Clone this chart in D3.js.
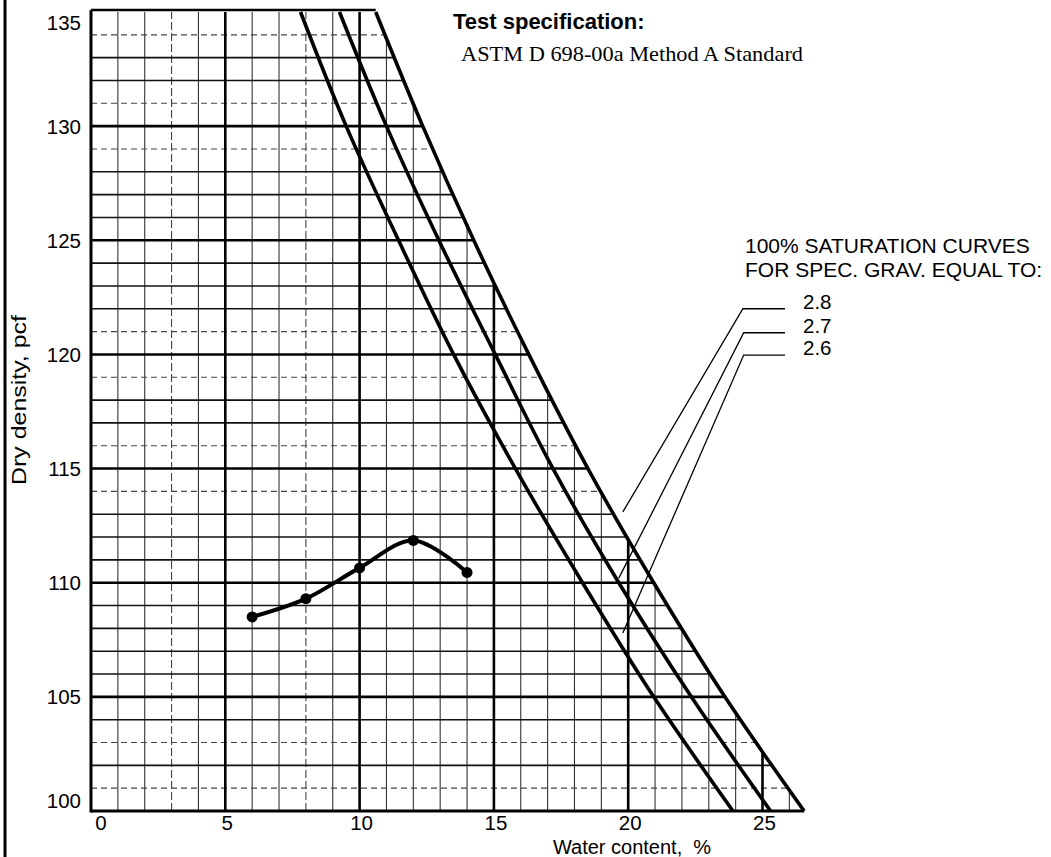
<!DOCTYPE html>
<html>
<head>
<meta charset="utf-8">
<script src="https://cdn.jsdelivr.net/npm/d3@7"></script>
<style>
  html, body { margin: 0; padding: 0; background: #fff; }
  svg { display: block; }
  text { font-family: "Liberation Sans", Arial, sans-serif; fill: #000; }
</style>
</head>
<body>
<svg id="chart" width="1051" height="857"></svg>
<script>
// ---------- DATA ----------
// Compaction test points (water content %, dry density pcf)
const waterContent = [6, 8, 10, 12, 14];
const dryDensity = [108.5, 109.3, 110.65, 111.85, 110.45];

// 100% saturation curves: water content at given densities
const satDensity = [135, 130, 125, 120, 115, 110, 105, 100];
const satW28 = [10.6, 12.35, 14.25, 16.3, 18.5, 20.95, 23.6, 26.55];
const satW27 = [9.25, 11.0, 12.95, 15.05, 17.2, 19.65, 22.35, 25.3];
const satW26 = [7.8, 9.5, 11.45, 13.5, 15.8, 18.3, 20.95, 23.9];
const specGravity = ["2.8", "2.7", "2.6"];

// tick values
const xTicks = [0, 5, 10, 15, 20, 25];
const yTicks = [100, 105, 110, 115, 120, 125, 130, 135];
const xMinor = d3.range(0, 28, 1);
const yMinor = d3.range(100, 136, 1);

// legend leader lines (in data units: [water content, density])
const leaderStart = [[24.27, 122.0], [24.3, 120.95], [24.3, 119.97]];
const leaderEnd = [[19.8, 113.1], [19.65, 110.2], [19.8, 107.8]];
const leaderRightW = 25.84;

// ---------- LAYOUT ----------
const svg = d3.select("#chart");
const x = d3.scaleLinear().domain([0, 27]).range([91, 91 + 27 * 26.86]);
const y = d3.scaleLinear().domain([100, 135]).range([811, 12]);

// page border on the left
svg.append("line").attr("x1", 5).attr("x2", 5).attr("y1", 0).attr("y2", 857)
  .attr("stroke", "#000").attr("stroke-width", 3);

const sat = [satW28, satW27, satW26].map(ws => ws.map((w, i) => ({ w, d: satDensity[i] })));
const curve = d3.curveCatmullRom.alpha(0.5);

// clip region: left of the 2.8 saturation curve
const clipArea = d3.area().curve(curve)
  .y(p => y(p.d)).x0(x(0) - 10).x1(p => x(p.w));
svg.append("clipPath").attr("id", "gridclip")
  .append("path").attr("d", clipArea(sat[0]));

const grid = svg.append("g").attr("clip-path", "url(#gridclip)");

// dashed (faint) minor lines in the scan
const dashedH = new Set([101, 103, 114, 116, 119, 121, 129, 131, 134]);
const dashedV = new Set([3, 8]);

// minor vertical
grid.selectAll("line.vmin").data(xMinor.filter(v => v % 5 !== 0)).join("line")
  .attr("x1", d => x(d)).attr("x2", d => x(d))
  .attr("y1", y(100)).attr("y2", y(135))
  .attr("stroke", d => dashedV.has(d) ? "#444" : "#333")
  .attr("stroke-width", d => dashedV.has(d) ? 1.1 : 1.1)
  .attr("stroke-dasharray", d => dashedV.has(d) ? "8,3" : null);

// minor horizontal
grid.selectAll("line.hmin").data(yMinor.filter(v => v % 5 !== 0)).join("line")
  .attr("x1", x(0)).attr("x2", x(27))
  .attr("y1", d => y(d)).attr("y2", d => y(d))
  .attr("stroke", d => dashedH.has(d) ? "#444" : "#111")
  .attr("stroke-width", d => dashedH.has(d) ? 1.1 : 1.6)
  .attr("stroke-dasharray", d => dashedH.has(d) ? "6,4" : null);

// major vertical
grid.selectAll("line.vmaj").data(xTicks.filter(v => v > 0)).join("line")
  .attr("x1", d => x(d)).attr("x2", d => x(d))
  .attr("y1", y(100)).attr("y2", y(135))
  .attr("stroke", "#000").attr("stroke-width", 2.6);

// major horizontal
grid.selectAll("line.hmaj").data(yTicks.filter(v => v > 100 && v < 135)).join("line")
  .attr("x1", x(0)).attr("x2", x(27))
  .attr("y1", d => y(d)).attr("y2", d => y(d))
  .attr("stroke", "#000").attr("stroke-width", 2.6);

// frame: left axis, bottom axis, top border
svg.append("line").attr("x1", x(0)).attr("x2", x(0)).attr("y1", y(135) - 2).attr("y2", y(100) + 1.5)
  .attr("stroke", "#000").attr("stroke-width", 3);
svg.append("line").attr("x1", x(0)).attr("x2", x(satW28[satW28.length - 1]))
  .attr("y1", y(100)).attr("y2", y(100))
  .attr("stroke", "#000").attr("stroke-width", 3);
svg.append("line").attr("x1", x(0)).attr("x2", x(satW28[0]))
  .attr("y1", y(135) - 2).attr("y2", y(135) - 2)
  .attr("stroke", "#000").attr("stroke-width", 2.4);

// saturation curves
const satLine = d3.line().curve(curve).x(p => x(p.w)).y(p => y(p.d));
svg.selectAll("path.sat").data(sat).join("path")
  .attr("d", satLine).attr("fill", "none")
  .attr("stroke", "#000").attr("stroke-width", 3.6);

// compaction curve
const pts = waterContent.map((w, i) => ({ w, d: dryDensity[i] }));
svg.append("path").datum(pts)
  .attr("d", d3.line().curve(d3.curveCatmullRom.alpha(0.5)).x(p => x(p.w)).y(p => y(p.d)))
  .attr("fill", "none").attr("stroke", "#000").attr("stroke-width", 4);
svg.selectAll("circle.pt").data(pts).join("circle")
  .attr("cx", p => x(p.w)).attr("cy", p => y(p.d)).attr("r", 5.5).attr("fill", "#000");

// tick labels
svg.selectAll("text.yl").data(yTicks).join("text")
  .attr("x", 81).attr("y", d => Math.min(y(100) - 10, Math.max(y(135) + 11, y(d))))
  .attr("dy", "0.36em").attr("text-anchor", "end")
  .attr("font-size", 20.5).text(d => d);
svg.selectAll("text.xl").data(xTicks).join("text")
  .attr("x", d => Math.max(x(0) + 10, x(d) + 2)).attr("y", 830)
  .attr("text-anchor", "middle").attr("font-size", 20.5).text(d => d);

// axis titles
svg.append("text").attr("x", 632).attr("y", 854).attr("text-anchor", "middle")
  .attr("font-size", 20).style("white-space", "pre").text("Water content,  %");
svg.append("text").attr("transform", "translate(26,400) rotate(-90)")
  .attr("text-anchor", "middle").attr("font-size", 19.5)
  .attr("textLength", 170).attr("lengthAdjust", "spacingAndGlyphs")
  .text("Dry density, pcf");

// test specification
svg.append("text").attr("x", 453).attr("y", 29).attr("font-size", 22).attr("font-weight", "bold")
  .text("Test specification:");
svg.append("text").attr("x", 461).attr("y", 61).attr("font-size", 21)
  .style("font-family", "'Liberation Serif', 'Times New Roman', serif")
  .attr("textLength", 342).attr("lengthAdjust", "spacingAndGlyphs")
  .text("ASTM D 698-00a Method A Standard");

// legend for saturation curves
svg.append("text").attr("x", 745).attr("y", 253).attr("font-size", 21)
  .text("100% SATURATION CURVES");
svg.append("text").attr("x", 745).attr("y", 277).attr("font-size", 21)
  .text("FOR SPEC. GRAV. EQUAL TO:");

specGravity.forEach((g, i) => {
  const [sw, sd] = leaderStart[i];
  const [ew, ed] = leaderEnd[i];
  svg.append("polyline")
    .attr("points", [[x(leaderRightW), y(sd)], [x(sw), y(sd)], [x(ew), y(ed)]].map(p => p.join(",")).join(" "))
    .attr("fill", "none").attr("stroke", "#000").attr("stroke-width", 1.3);
  svg.append("text").attr("x", 803).attr("y", y(sd)).attr("font-size", 20.5).text(g);
});
</script>
</body>
</html>
